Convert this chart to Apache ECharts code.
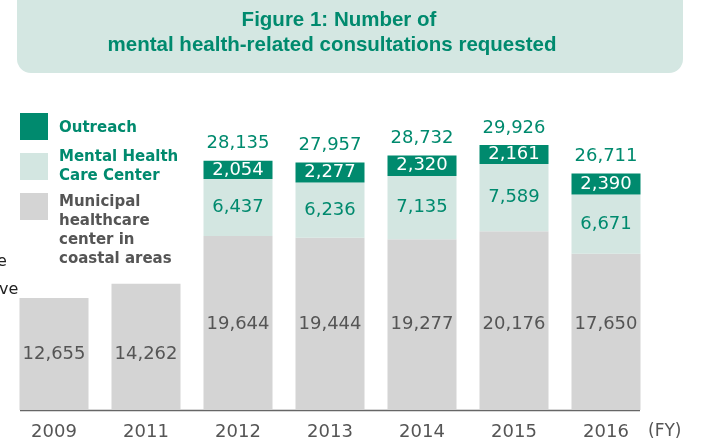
<!DOCTYPE html>
<html><head><meta charset="utf-8">
<script src="https://cdn.jsdelivr.net/npm/echarts@6/dist/echarts.min.js"></script>
<style>html,body{margin:0;padding:0;background:#fff}#c{width:707px;height:441px}</style>
</head><body><div id="c"></div>
<script>
var years = ['2009','2011','2012','2013','2014','2015','2016'];
var municipal = [12655, 14262, 19644, 19444, 19277, 20176, 17650];
var mentalHealth = [null, null, 6437, 6236, 7135, 7589, 6671];
var outreach = [null, null, 2054, 2277, 2320, 2161, 2390];
var totals = [null, null, 28135, 27957, 28732, 29926, 26711];
var seriesNames = ['Outreach', 'Mental Health\nCare Center', 'Municipal\nhealthcare\ncenter in\ncoastal areas'];
var titleLines = ['Figure 1: Number of', 'mental health-related consultations requested'];

var TEAL = '#008a6e', LIGHT = '#d3e6e1', GRAY = '#d4d4d4', TXT = '#555';
var FONT = 'DejaVu Sans';
function fmt(v){ return v == null ? '' : v.toLocaleString('en-US'); }

var chart = echarts.init(document.getElementById('c'));
var legendColors = [TEAL, LIGHT, GRAY];
var legendTextColors = [TEAL, TEAL, TXT];
var legendY = [113, 153, 193];
var legendGraphics = [];
seriesNames.forEach(function(n, i){
  legendGraphics.push({type:'rect', shape:{x:20, y:legendY[i], width:28, height:27}, style:{fill:legendColors[i]}});
  legendGraphics.push({type:'text', x:59, y: (i===2 ? legendY[i] : legendY[i]+(i===0 ? 15 : 14)),
    style:{text:n, fill:legendTextColors[i], font:'bold 15px "'+FONT+'"', lineHeight:19,
      verticalAlign: i===2 ? 'top' : 'middle', textAlign:'left'}});
});

var municipalData = municipal.map(function(v, i){
  return {value:v, label:{position:'insideBottom', distance: mentalHealth[i] == null ? 47 : 77}};
});

chart.setOption({
  animation:false,
  graphic: [
    {type:'rect', shape:{x:17, y:-20, width:666, height:93, r:14}, style:{fill:'#d4e7e2'}},
    {type:'text', x:339, y:20, style:{text:titleLines[0], fill:TEAL, font:'bold 20.5px "Liberation Sans"', textAlign:'center', verticalAlign:'middle'}},
    {type:'text', x:332, y:45, style:{text:titleLines[1], fill:TEAL, font:'bold 20.5px "Liberation Sans"', textAlign:'center', verticalAlign:'middle'}},
    {type:'line', shape:{x1:20, y1:410.5, x2:640, y2:410.5}, style:{stroke:'#666', lineWidth:1.5}},
    {type:'text', x:648, y:432, style:{text:'(FY)', fill:TXT, font:'17px "'+FONT+'"', verticalAlign:'middle'}},
    {type:'text', x:-3, y:262, style:{text:'e', fill:'#222', font:'16px "'+FONT+'"', verticalAlign:'middle'}},
    {type:'text', x:-1, y:290, style:{text:'ve', fill:'#222', font:'16px "'+FONT+'"', verticalAlign:'middle'}}
  ].concat(legendGraphics),
  grid:{left:8, width:644, top:100, bottom:31},
  xAxis:{type:'category', data:years, axisLine:{show:false}, axisTick:{show:false},
    axisLabel:{color:TXT, fontSize:18, fontFamily:FONT, margin:13}},
  yAxis:{type:'value', min:0, max:35000, show:false, splitLine:{show:false}},
  series:[
    {name:'municipal', type:'bar', stack:'a', barWidth:69, data:municipalData, itemStyle:{color:GRAY},
      label:{show:true, position:'insideBottom', color:TXT, fontSize:18, fontFamily:FONT, formatter:function(p){return fmt(p.value);}}},
    {name:'mental', type:'bar', stack:'a', barWidth:69, data:mentalHealth, itemStyle:{color:LIGHT},
      label:{show:true, position:'inside', color:TEAL, fontSize:18, fontFamily:FONT, formatter:function(p){return fmt(p.value);}}},
    {name:'outreach', type:'bar', stack:'a', barWidth:69, data:outreach, itemStyle:{color:TEAL},
      label:{show:true, position:'inside', color:'#fff', fontSize:18, fontFamily:FONT, formatter:function(p){return fmt(p.value);}}},
    {name:'total', type:'scatter', data:totals, symbolSize:0, silent:true, itemStyle:{opacity:1},
      label:{show:true, position:'top', distance:8, color:TEAL, fontSize:18, fontFamily:FONT, formatter:function(p){return fmt(p.value);}}}
  ]
});
</script></body></html>
